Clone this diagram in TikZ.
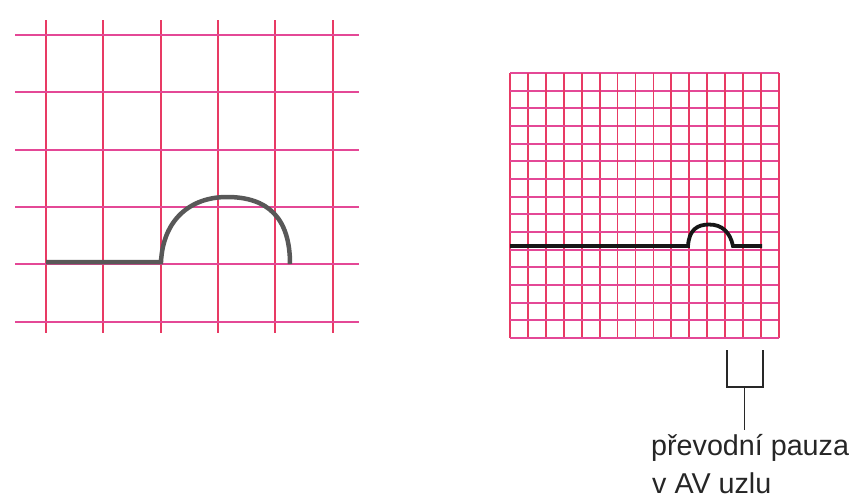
\documentclass[tikz,border=0pt]{standalone}
\usepackage{fontspec}
\setmainfont{Liberation Sans}
\definecolor{gridv}{RGB}{232,58,100}
\definecolor{gridh}{RGB}{228,72,150}
\definecolor{wavegrey}{RGB}{88,88,88}
\definecolor{waveblack}{RGB}{22,22,22}
\definecolor{bracketcol}{RGB}{40,40,40}
\tikzset{
  vline/.style={draw=gridv, line width=1.8pt},
  hline/.style={draw=gridh, line width=1.8pt},
  bigwave/.style={draw=wavegrey, line width=4.5pt},
  smallwave/.style={draw=waveblack, line width=3.8pt},
  bracketline/.style={draw=bracketcol, line width=1.6pt},
  label/.style={inner sep=0pt, anchor=base west, font=\fontsize{28.7pt}{37pt}\selectfont, text=black!85}
}
\begin{document}
\begin{tikzpicture}[x=1pt,y=-1pt]
\useasboundingbox (0,0) rectangle (849,499);
\fill[white] (0,0) rectangle (849,499);
% left grid
\foreach \x in {46,103.3,160.7,218,275.3,332.6} {
  \draw[vline] (\x,20) -- (\x,333);
}
\foreach \y in {35,92.3,149.7,207,264.3,321.6} {
  \draw[hline] (15,\y) -- (359,\y);
}
% left waveform
\draw[bigwave] (46,262) -- (161,262)
  .. controls (163,220) and (190,197) .. (227,197)
  .. controls (268,197) and (290,218) .. (290,264);
% right grid 15x15
\foreach \i in {0,...,15} {
  \draw[vline] ({510+\i*17.93},73) -- ({510+\i*17.93},338);
  \draw[hline] (510,{73+\i*17.67}) -- (779,{73+\i*17.67});
}
% right waveform
\draw[smallwave] (510,246) -- (688,246)
  .. controls (689,230) and (697,224.5) .. (709,224.5)
  .. controls (722,224.5) and (730,232) .. (733,246)
  -- (762,246);
% bracket
\coordinate (bl) at (727,350);
\coordinate (br) at (763,350);
\coordinate (bm) at (744.5,387);
\coordinate (stemend) at (744.5,430);
\draw[bracketline] (bl) |- (bm) -| (br);
\draw[bracketline] (bm) -- (stemend);
% label
\node[label] (t1) at (651,455) {převodní pauza};
\node[label] (t2) at (652,493) {v AV uzlu};
\end{tikzpicture}
\end{document}
